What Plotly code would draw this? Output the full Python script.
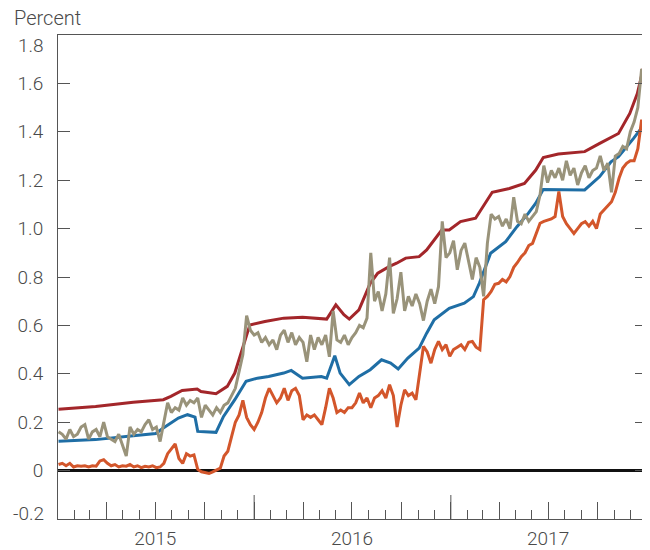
import pandas as pd
import plotly.graph_objects as go

# --- data (percent) ---
# smooth series, own dates
red_dates = ["2015-01-02", "2015-03-12", "2015-05-21", "2015-07-16", "2015-07-30", "2015-08-20",
             "2015-09-17", "2015-09-24", "2015-10-22", "2015-11-12", "2015-11-26", "2015-12-10",
             "2015-12-24", "2016-01-21", "2016-02-25", "2016-03-31", "2016-05-15", "2016-06-01",
             "2016-06-16", "2016-06-26", "2016-07-14", "2016-08-04", "2016-08-18", "2016-09-08",
             "2016-09-22", "2016-10-09", "2016-11-03", "2016-11-17", "2016-12-15", "2016-12-29",
             "2017-01-19", "2017-02-16", "2017-03-02", "2017-03-19", "2017-04-20", "2017-05-18",
             "2017-06-08", "2017-06-22", "2017-07-20", "2017-09-07", "2017-10-05", "2017-11-09",
             "2017-11-30", "2017-12-14", "2017-12-28"]
red_vals = [0.254, 0.265, 0.282, 0.293, 0.307, 0.331,
            0.337, 0.327, 0.318, 0.348, 0.403, 0.499,
            0.602, 0.616, 0.630, 0.634, 0.626, 0.685,
            0.644, 0.626, 0.664, 0.774, 0.816, 0.843,
            0.857, 0.878, 0.884, 0.912, 0.994, 0.994,
            1.029, 1.043, 1.091, 1.150, 1.166, 1.187,
            1.242, 1.294, 1.308, 1.318, 1.352, 1.393,
            1.476, 1.558, 1.689]

blue_dates = ["2015-01-02", "2015-03-12", "2015-05-21", "2015-07-02", "2015-07-16", "2015-08-13",
              "2015-08-30", "2015-09-13", "2015-09-18", "2015-10-22", "2015-11-05", "2015-11-26",
              "2015-12-17", "2016-01-07", "2016-01-28", "2016-02-25", "2016-03-10", "2016-03-31",
              "2016-05-05", "2016-05-15", "2016-05-30", "2016-06-09", "2016-06-26", "2016-07-14",
              "2016-08-04", "2016-08-25", "2016-09-11", "2016-09-25", "2016-10-13", "2016-11-03",
              "2016-11-17", "2016-12-01", "2016-12-29", "2017-01-26", "2017-02-12", "2017-02-23",
              "2017-03-16", "2017-04-13", "2017-05-04", "2017-05-25", "2017-06-08", "2017-06-22",
              "2017-09-07", "2017-10-05", "2017-10-26", "2017-11-09", "2017-12-07", "2017-12-21",
              "2017-12-29"]
blue_vals = [0.121, 0.128, 0.144, 0.153, 0.176, 0.217,
             0.231, 0.221, 0.162, 0.158, 0.224, 0.293,
             0.369, 0.382, 0.389, 0.403, 0.414, 0.382,
             0.389, 0.382, 0.475, 0.403, 0.355, 0.389,
             0.417, 0.458, 0.444, 0.420, 0.465, 0.506,
             0.568, 0.623, 0.671, 0.692, 0.719, 0.774,
             0.898, 0.946, 1.008, 1.063, 1.105, 1.162,
             1.160, 1.215, 1.276, 1.297, 1.373, 1.414,
             1.420]

# noisy series, weekly (Fridays), one row per quarter
weeks = pd.date_range("2015-01-02", periods=157, freq="7D")

khaki_vals = [
    0.16, 0.15, 0.13, 0.17, 0.14, 0.15, 0.18, 0.19, 0.13, 0.16, 0.17, 0.14, 0.20,
    0.14, 0.13, 0.12, 0.15, 0.10, 0.06, 0.18, 0.15, 0.17, 0.16, 0.19, 0.21, 0.17,
    0.18, 0.12, 0.20, 0.28, 0.24, 0.26, 0.25, 0.30, 0.27, 0.29, 0.28, 0.30, 0.22,
    0.27, 0.25, 0.23, 0.26, 0.24, 0.27, 0.28, 0.31, 0.34, 0.41, 0.48, 0.64, 0.58,
    0.56, 0.57, 0.53, 0.55, 0.52, 0.54, 0.50, 0.56, 0.58, 0.53, 0.57, 0.52, 0.55,
    0.53, 0.45, 0.56, 0.50, 0.55, 0.52, 0.56, 0.47, 0.66, 0.54, 0.53, 0.56, 0.52,
    0.55, 0.57, 0.60, 0.59, 0.63, 0.90, 0.70, 0.74, 0.66, 0.73, 0.88, 0.65, 0.71,
    0.82, 0.66, 0.72, 0.68, 0.73, 0.69, 0.62, 0.70, 0.75, 0.69, 0.76, 1.03, 0.88,
    0.90, 0.95, 0.83, 0.91, 0.94, 0.86, 0.79, 0.88, 0.84, 0.72, 0.94, 1.06, 1.04,
    1.05, 1.01, 1.04, 1.00, 1.13, 1.03, 1.02, 1.06, 1.03, 1.05, 1.07, 1.14, 1.26,
    1.19, 1.24, 1.21, 1.25, 1.20, 1.28, 1.22, 1.25, 1.18, 1.23, 1.26, 1.21, 1.24,
    1.25, 1.30, 1.24, 1.27, 1.15, 1.30, 1.31, 1.34, 1.33, 1.40, 1.44, 1.50, 1.66, 1.56,
]

orange_vals = [
    0.025, 0.030, 0.020, 0.030, 0.015, 0.020, 0.018, 0.020, 0.015, 0.020, 0.018, 0.040, 0.045,
    0.030, 0.020, 0.025, 0.015, 0.020, 0.018, 0.025, 0.015, 0.020, 0.012, 0.018, 0.015, 0.020,
    0.012, 0.015, 0.030, 0.070, 0.090, 0.110, 0.050, 0.030, 0.070, 0.060, 0.065, 0.005, -0.005,
    -0.010, -0.012, -0.005, 0.004, 0.010, 0.060, 0.080, 0.140, 0.200, 0.230, 0.290, 0.220, 0.190,
    0.170, 0.200, 0.240, 0.300, 0.340, 0.310, 0.280, 0.300, 0.340, 0.290, 0.330, 0.340, 0.310,
    0.210, 0.230, 0.220, 0.230, 0.210, 0.190, 0.260, 0.340, 0.300, 0.240, 0.250, 0.240, 0.260,
    0.260, 0.280, 0.320, 0.280, 0.300, 0.260, 0.300, 0.310, 0.330, 0.300, 0.355, 0.310, 0.180,
    0.270, 0.334, 0.310, 0.320, 0.293, 0.400, 0.513, 0.490, 0.444, 0.500, 0.534, 0.500, 0.520,
    0.472, 0.500, 0.510, 0.520, 0.500, 0.530, 0.534, 0.510, 0.500, 0.706, 0.720, 0.740, 0.770,
    0.774, 0.790, 0.780, 0.802, 0.840, 0.860, 0.884, 0.900, 0.930, 0.939, 0.980, 1.022, 1.030,
    1.036, 1.040, 1.050, 1.153, 1.050, 1.020, 1.000, 0.980, 1.000, 1.020, 1.029, 1.010, 1.030,
    1.000, 1.060, 1.077, 1.090, 1.111, 1.150, 1.208, 1.250, 1.270, 1.280, 1.280, 1.330, 1.450, 1.370,
]

quarter_ticks = ["2015-01-01", "2015-04-01", "2015-07-01", "2015-10-01",
                 "2016-01-01", "2016-04-01", "2016-07-01", "2016-10-01",
                 "2017-01-01", "2017-04-01", "2017-07-01", "2017-10-01"]
quarter_text = ["", "", "2015", "", "", "", "2016", "", "", "", "2017", ""]
year_starts = ["2016-01-01", "2017-01-01"]
y_ticks = [-0.2, 0, 0.2, 0.4, 0.6, 0.8, 1.0, 1.2, 1.4, 1.6, 1.8]
y_text = ["-0.2", "0", "0.2", "0.4", "0.6", "0.8", "1.0", "1.2", "1.4", "1.6", "1.8"]

AX = "#555555"
TXT = "#4a4a4a"
FONT = "Roboto"

# the page body keeps its default 8px margin, so the figure sits 8px in from the corner
OFF = 8
L, R, T, B = 58 - OFF, 650 - 647 + OFF, 35 - OFF, 550 - 519 + OFF
PW, PH = 650 - L - R, 550 - T - B


def px_x(x):
    # screen x pixel -> paper x
    return (x - OFF - L) / PW


def px_y(y):
    # screen y pixel -> paper y
    return 1 - (y - OFF - T) / PH


fig = go.Figure()
for d, v, c in [(red_dates, red_vals, "#a3262a"),
                (blue_dates, blue_vals, "#1f6ea5"),
                (weeks, orange_vals, "#d3562b"),
                (weeks, khaki_vals, "#99937a")]:
    fig.add_trace(go.Scatter(x=d, y=v, mode="lines", line=dict(color=c, width=3),
                             hoverinfo="skip"))

# taller ticks at year boundaries
for ys in year_starts:
    fig.add_shape(type="line", xref="x", yref="paper", x0=ys, x1=ys, y0=0, y1=24 / PH,
                  line=dict(color=AX, width=1))

lab_font = dict(family=FONT, size=19, color=TXT, weight=300)
fig.add_annotation(text="Percent", xref="paper", yref="paper",
                   x=px_x(12), y=px_y(18), xanchor="left", yanchor="middle",
                   showarrow=False, font=dict(family=FONT, size=20, color=TXT, weight=300))
# end labels of the value axis sit nudged inside the frame
fig.add_annotation(text=y_text[-1], xref="paper", yref="paper", x=px_x(46), y=px_y(45),
                   xanchor="right", yanchor="middle", showarrow=False, font=lab_font)
fig.add_annotation(text=y_text[0], xref="paper", yref="paper", x=px_x(46), y=px_y(513),
                   xanchor="right", yanchor="middle", showarrow=False, font=lab_font)
y_shown = [""] + y_text[1:-1] + [""]

fig.update_layout(
    width=650, height=550,
    margin=dict(l=L, r=R, t=T, b=B),
    plot_bgcolor="white", paper_bgcolor="white",
    showlegend=False,
    font=dict(family=FONT, size=19, color=TXT, weight=300),
)
fig.update_xaxes(
    type="date", range=["2015-01-01", "2018-01-01"], automargin=False,
    showline=True, linecolor=AX, linewidth=1, mirror=True,
    showgrid=False, zeroline=False,
    tickmode="array", tickvals=quarter_ticks, ticktext=quarter_text,
    ticks="inside", ticklen=17, tickcolor=AX, tickwidth=1,
    tickfont=lab_font, ticklabelstandoff=2,
    minor=dict(tickmode="linear", tick0="2015-01-01", dtick="M1", ticks="inside",
               ticklen=9, tickcolor=AX, tickwidth=1, showgrid=False),
)
fig.update_yaxes(
    range=[-0.2, 1.8], automargin=False,
    showline=True, linecolor=AX, linewidth=1, mirror="ticks",
    showgrid=False,
    zeroline=True, zerolinecolor="#111111", zerolinewidth=2.5,
    tickmode="array", tickvals=y_ticks, ticktext=y_shown,
    ticks="inside", ticklen=12, tickcolor=AX, tickwidth=1,
    tickfont=lab_font, ticklabelstandoff=10,
)

fig.write_html("out.html")
